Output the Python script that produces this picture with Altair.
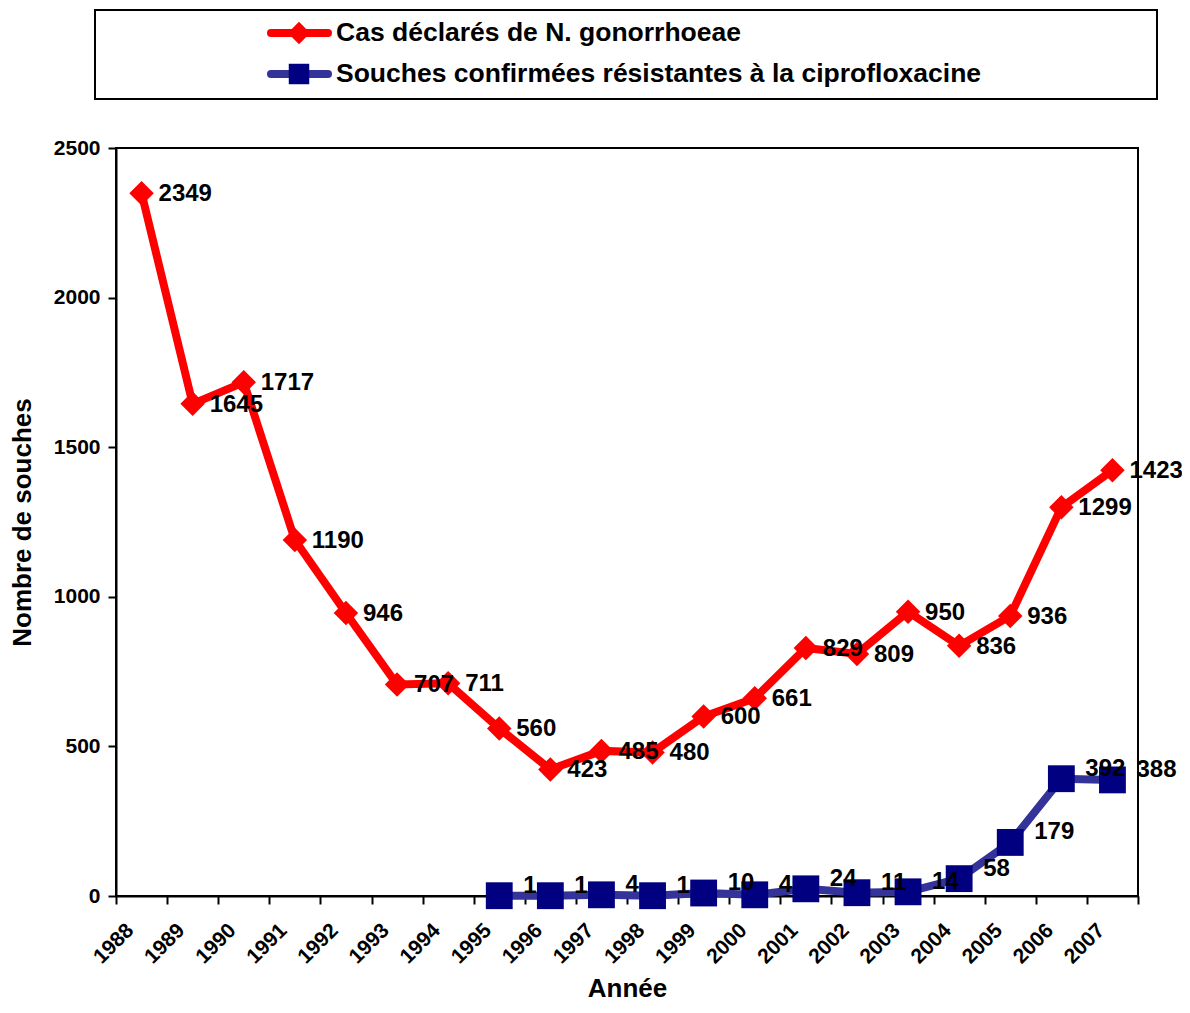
import altair as alt
import pandas as pd

FONT = "Liberation Sans"

years_cases = list(range(1988, 2008))
cases = [2349, 1645, 1717, 1190, 946, 707, 711, 560, 423, 485,
         480, 600, 661, 829, 809, 950, 836, 936, 1299, 1423]

years_res = list(range(1995, 2008))
resistant = [1, 1, 4, 1, 10, 4, 24, 11, 14, 58, 179, 392, 388]

legend_labels = ["Cas déclarés de N. gonorrhoeae",
                 "Souches confirmées résistantes à la ciprofloxacine"]
x_ticks = list(range(1988, 2009))
y_ticks = [0, 500, 1000, 1500, 2000, 2500]

RED = "#FF0000"
BLUE_LINE = "#333399"
BLUE_MARK = "#000080"

df_cases = pd.DataFrame({"annee": years_cases, "n": cases})
df_res = pd.DataFrame({"annee": years_res, "n": resistant})
deco = pd.DataFrame({"k": [0]})

x_enc = alt.X(
    "xpos:Q",
    scale=alt.Scale(domain=[1988, 2008], nice=False, zero=False),
    axis=alt.Axis(
        title="Année",
        values=x_ticks,
        labelExpr="datum.value >= 2008 ? '' : toString(datum.value)",
        labelAngle=315,
        labelAlign="right",
        labelBaseline="middle",
        labelOffset=14,
        labelPadding=23,
        labelFontSize=21,
        titlePadding=8,
        grid=False,
    ),
)
y_enc = alt.Y(
    "n:Q",
    scale=alt.Scale(domain=[0, 2500], nice=False),
    axis=alt.Axis(
        title="Nombre de souches",
        values=y_ticks,
        format="d",
        labelFontSize=21,
        labelPadding=8,
        titlePadding=18,
        grid=False,
    ),
)

def base(df):
    return alt.Chart(df).transform_calculate(xpos="datum.annee + 0.5")

red_line = base(df_cases).mark_line(color=RED, strokeWidth=8).encode(x=x_enc, y=y_enc)
red_pts = base(df_cases).mark_point(shape="diamond", filled=True, opacity=1, color=RED, size=600).encode(x=x_enc, y=y_enc)
red_txt = base(df_cases).mark_text(align="left", baseline="middle", dx=17, dy=1, fontSize=24,
                                   fontWeight="bold", font=FONT, color="black").encode(x=x_enc, y=y_enc, text="n:Q")

blue_line = base(df_res).mark_line(color=BLUE_LINE, strokeWidth=8).encode(x=x_enc, y=y_enc)
blue_pts = base(df_res).mark_point(shape="square", filled=True, opacity=1, color=BLUE_MARK, size=720).encode(x=x_enc, y=y_enc)
blue_txt = base(df_res).mark_text(align="left", baseline="middle", dx=24, dy=-10, fontSize=24,
                                  fontWeight="bold", font=FONT, color="black").encode(x=x_enc, y=y_enc, text="n:Q")

# legend box (decoration above the plot area)
leg_box = alt.Chart(deco).mark_rect(fill="white", stroke="black", strokeWidth=2).encode(
    x=alt.value(-21), x2=alt.value(1041), y=alt.value(-138), y2=alt.value(-49))
leg_red_line = alt.Chart(deco).mark_rule(color=RED, strokeWidth=8, strokeCap="round").encode(
    x=alt.value(155), x2=alt.value(212), y=alt.value(-115))
leg_red_pt = alt.Chart(deco).mark_point(shape="diamond", filled=True, opacity=1, color=RED, size=500).encode(
    x=alt.value(183), y=alt.value(-115))
leg_blue_line = alt.Chart(deco).mark_rule(color=BLUE_LINE, strokeWidth=8, strokeCap="round").encode(
    x=alt.value(155), x2=alt.value(212), y=alt.value(-74))
leg_blue_pt = alt.Chart(deco).mark_point(shape="square", filled=True, opacity=1, color=BLUE_MARK, size=420).encode(
    x=alt.value(183), y=alt.value(-74))
leg_txt1 = alt.Chart(deco).mark_text(align="left", baseline="middle", fontSize=26.5, fontWeight="bold",
                                     font=FONT, color="black").encode(
    x=alt.value(220), y=alt.value(-115), text=alt.value(legend_labels[0]))
leg_txt2 = alt.Chart(deco).mark_text(align="left", baseline="middle", fontSize=26.5, fontWeight="bold",
                                     font=FONT, color="black").encode(
    x=alt.value(220), y=alt.value(-74), text=alt.value(legend_labels[1]))

chart = alt.layer(
    red_line, red_pts, blue_line, blue_pts, red_txt, blue_txt,
    leg_box, leg_red_line, leg_red_pt, leg_blue_line, leg_blue_pt, leg_txt1, leg_txt2,
).properties(
    width=1022, height=748,
    padding={"left": 108, "top": 140, "right": 44, "bottom": 109},
    autosize=alt.AutoSizeParams(type="none"),
).configure_view(
    stroke="black", strokeWidth=2
).configure_axis(
    domainColor="black", domainWidth=2, tickColor="black", tickWidth=2, tickSize=8,
    labelFont=FONT, labelFontWeight="bold", labelColor="black",
    titleFont=FONT, titleFontWeight="bold", titleFontSize=26, titleColor="black",
)

chart.save("out.html", embed_options={"renderer": "svg", "actions": False})
